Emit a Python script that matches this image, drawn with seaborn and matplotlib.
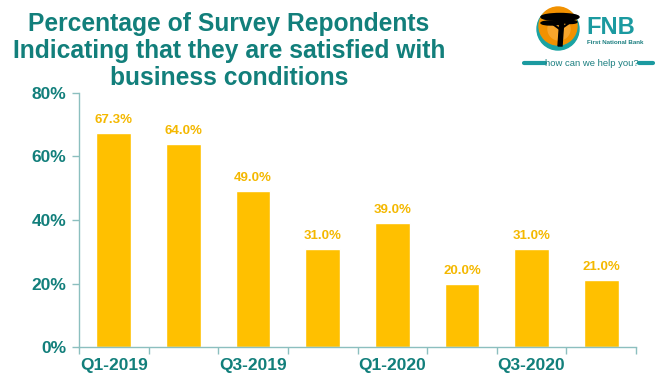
import matplotlib
matplotlib.use("Agg")
import matplotlib.pyplot as plt
import seaborn as sns
import pandas as pd
from matplotlib.patches import Circle, Ellipse, Polygon

quarters = ["Q1-2019", "Q2-2019", "Q3-2019", "Q4-2019", "Q1-2020", "Q2-2020", "Q3-2020", "Q4-2020"]
values = [67.3, 64.0, 49.0, 31.0, 39.0, 20.0, 31.0, 21.0]
shown_labels = ["Q1-2019", "", "Q3-2019", "", "Q1-2020", "", "Q3-2020", ""]
yticks = [0, 20, 40, 60, 80]
title_lines = ["Percentage of Survey Repondents",
               "Indicating that they are satisfied with",
               "business conditions"]

TEAL = "#127F7B"
BAR = "#FFC000"
LBL = "#F4B800"
AXIS = "#8CBFBF"

sns.set_theme(style="white")
plt.rcParams["font.family"] = ["Liberation Sans", "DejaVu Sans"]

df = pd.DataFrame({"quarter": quarters, "value": values})

fig = plt.figure(figsize=(6.55, 3.76), dpi=100)
ax = fig.add_axes([79/655, 1-347/376, (636-79)/655, (347-93)/376])
sns.barplot(data=df, x="quarter", y="value", color=BAR, width=0.5, ax=ax, saturation=1)

ax.set_ylim(0, 80)
ax.set_xlim(-0.5, 7.5)
ax.set_yticks(yticks)
ax.set_yticklabels([f"{v}%" for v in yticks], color=TEAL, fontsize=12.5, fontweight="bold")
ax.set_xticks(range(len(quarters)))
ax.set_xticklabels(shown_labels, color=TEAL, fontsize=12.5, fontweight="bold")
ax.set_xticks([i - 0.5 for i in range(len(quarters) + 1)], minor=True)
ax.tick_params(axis="x", which="major", length=0, pad=8)
ax.tick_params(axis="x", which="minor", length=5, color=AXIS, width=1, direction="out", bottom=True)
ax.tick_params(axis="y", length=5, color=AXIS, width=1, direction="out", left=True, pad=4)
ax.set_xlabel("")
ax.set_ylabel("")
for s in ["top", "right"]:
    ax.spines[s].set_visible(False)
for s in ["left", "bottom"]:
    ax.spines[s].set_color(AXIS)
    ax.spines[s].set_linewidth(1)

for i, v in enumerate(values):
    ax.annotate(f"{v:.1f}%", (i, v), xytext=(0, 5), textcoords="offset points",
                ha="center", va="bottom", color=LBL, fontsize=9.5, fontweight="bold")

for line, base in zip(title_lines, [31, 58, 85]):
    fig.text(229/655, 1-base/376, line, ha="center", va="baseline",
             color=TEAL, fontsize=17.7, fontweight="bold")

# Logo
lax = fig.add_axes([520/655, 1-75/376, 135/655, 75/376])
lax.set_xlim(0, 135)
lax.set_ylim(75, 0)
lax.axis("off")
lax.add_patch(Circle((38, 29), 21, color="#1AA3A3"))
lax.add_patch(Circle((38, 26), 19, color="#F29100"))
lax.add_patch(Circle((39, 29), 11, color="#F8A62C"))
# acacia tree silhouette
lax.add_patch(Ellipse((40, 17), 38, 7, color="black"))
lax.add_patch(Ellipse((31, 23), 20, 4, color="black"))
lax.add_patch(Ellipse((50, 22), 14, 3, color="black"))
lax.add_patch(Polygon([[40, 18], [44, 18], [42, 46], [38, 46]], color="black"))
lax.plot([41, 30], [30, 22], color="black", lw=1.5)
lax.plot([42, 52], [28, 21], color="black", lw=1.5)
lax.plot([41, 35], [24, 17], color="black", lw=1.5)
lax.text(66, 27, "FNB", color="#1B9AA0", fontsize=17, fontweight="bold", va="center", ha="left")
lax.text(67, 43, "First National Bank", color="#1B7F80", fontsize=4.5, fontweight="bold", va="center", ha="left")
lax.plot([4, 25], [63, 63], color="#1B9AA0", lw=3, solid_capstyle="round")
lax.plot([119, 133], [63, 63], color="#1B9AA0", lw=3, solid_capstyle="round")
lax.text(72, 63, "how can we help you?", color="#1B7F80", fontsize=6.8, va="center", ha="center")

fig.savefig("out.png", dpi=100)
